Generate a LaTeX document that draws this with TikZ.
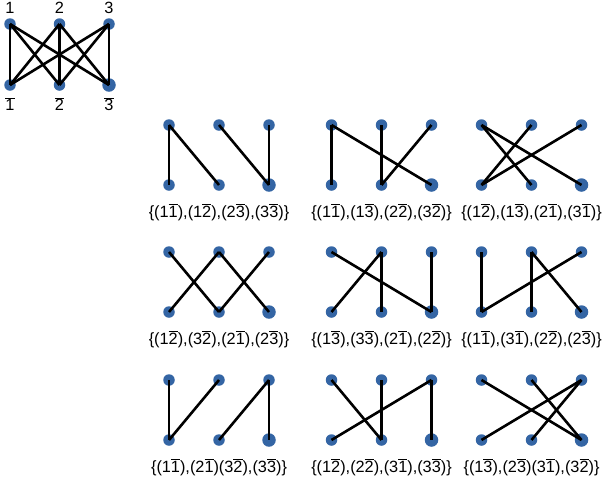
\documentclass[tikz,border=0pt]{standalone}
\usepackage{fontspec}
\setmainfont{Liberation Sans}
\definecolor{dotblue}{RGB}{52,101,164}
\newcommand\ob[1]{$\overline{\mbox{#1}}$}
\tikzset{
  dot/.style={circle,fill=dotblue,inner sep=0pt,minimum size=11.5pt},
  bigdot/.style={dot,minimum size=13.5pt},
  edge/.style={line width=2.6pt,black},
  lab/.style={inner sep=0pt,font=\fontsize{16.3}{19}\selectfont},
}
\newcommand\bgraph[5]{%
  \node[dot] (#1t1) at ({#2},{#3}) {};
  \node[dot] (#1t2) at ({#2+50},{#3}) {};
  \node[dot] (#1t3) at ({#2+100},{#3}) {};
  \node[dot] (#1b1) at ({#2},{#3+60}) {};
  \node[dot] (#1b2) at ({#2+50},{#3+60}) {};
  \node[bigdot] (#1b3) at ({#2+100},{#3+60}) {};
  \foreach \a/\b in {#4} \draw[edge] (#1t\a.center) -- (#1b\b.center);
  \node[lab] (#1lab) at ({#2+50},{#3+87}) {#5};
}
\begin{document}
\begin{tikzpicture}[x=1pt,y=-1pt]
\useasboundingbox (0,0) rectangle (605,483);
% complete bipartite graph
\node[dot] (t1) at (10,24) {};
\node[dot] (t2) at (59.5,24) {};
\node[dot] (t3) at (109,24) {};
\node[dot] (b1) at (10,85) {};
\node[dot] (b2) at (59.5,85) {};
\node[bigdot] (b3) at (109,85) {};
\foreach \a in {1,2,3}{\foreach \b in {1,2,3}{\draw[edge] (t\a.center) -- (b\b.center);}}
\node[lab] (lt1) at (10,8) {1};
\node[lab] (lt2) at (59.5,8) {2};
\node[lab] (lt3) at (109,8) {3};
\node[lab] (lb1) at (10,104) {\ob{1}};
\node[lab] (lb2) at (59.5,104) {\ob{2}};
\node[lab] (lb3) at (109,104) {\ob{3}};
% row 1
\bgraph{a}{169}{125}{1/1,1/2,2/3,3/3}{\{(1\ob{1}),(1\ob{2}),(2\ob{3}),(3\ob{3})\}}
\bgraph{b}{331.5}{125}{1/1,1/3,2/2,3/2}{\{(1\ob{1}),(1\ob{3}),(2\ob{2}),(3\ob{2})\}}
\bgraph{c}{481.5}{125}{1/2,1/3,2/1,3/1}{\{(1\ob{2}),(1\ob{3}),(2\ob{1}),(3\ob{1})\}}
% row 2
\bgraph{d}{169}{252}{1/2,3/2,2/1,2/3}{\{(1\ob{2}),(3\ob{2}),(2\ob{1}),(2\ob{3})\}}
\bgraph{e}{331.5}{252}{1/3,3/3,2/1,2/2}{\{(1\ob{3}),(3\ob{3}),(2\ob{1}),(2\ob{2})\}}
\bgraph{f}{481.5}{252}{1/1,3/1,2/2,2/3}{\{(1\ob{1}),(3\ob{1}),(2\ob{2}),(2\ob{3})\}}
% row 3
\bgraph{g}{169}{380}{1/1,2/1,3/2,3/3}{\{(1\ob{1}),(2\ob{1})(3\ob{2}),(3\ob{3})\}}
\bgraph{h}{331.5}{380}{1/2,2/2,3/1,3/3}{\{(1\ob{2}),(2\ob{2}),(3\ob{1}),(3\ob{3})\}}
\bgraph{i}{481.5}{380}{1/3,2/3,3/1,3/2}{\{(1\ob{3}),(2\ob{3})(3\ob{1}),(3\ob{2})\}}
\end{tikzpicture}
\end{document}
